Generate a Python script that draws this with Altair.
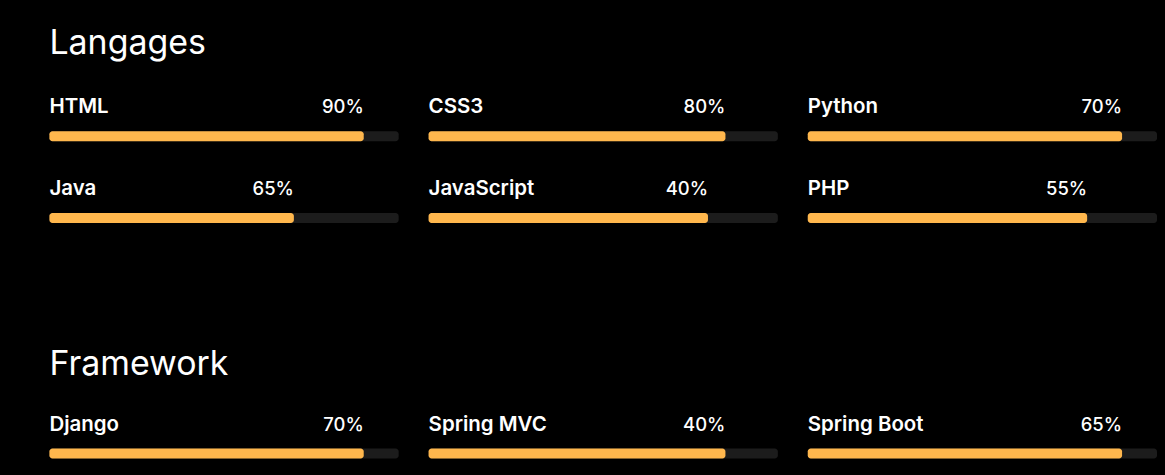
import altair as alt
import pandas as pd

# ---- data ----
sections = ["Langages"] * 6 + ["Framework"] * 3
skills = ["HTML", "CSS3", "Python", "Java", "JavaScript", "PHP",
          "Django", "Spring MVC", "Spring Boot"]
shown_pct = [90, 80, 70, 65, 40, 55, 70, 40, 65]      # text printed above each bar
bar_fill = [90, 85, 90, 70, 80, 80, 90, 85, 90]       # how far each bar is filled (%)

df = pd.DataFrame({
    "section": sections,
    "skill": skills,
    "fill": bar_fill,
    "label": [f"{v}%" for v in shown_pct],
    "order": list(range(len(skills))),
})

FONT = "Inter"
ORANGE = "#ffb74d"
TRACK = "#1c1c1c"


def section_chart(name, title_offset):
    d = df[df["section"] == name]
    xs = alt.Scale(domain=[0, 100])
    base = alt.Chart().transform_calculate(zero="0", full="100")
    track = base.mark_rect(color=TRACK, cornerRadius=3).encode(
        x=alt.X("zero:Q", scale=xs, axis=None), x2="full:Q",
        y=alt.value(33), y2=alt.value(43))
    fill = base.mark_rect(color=ORANGE, cornerRadius=3).encode(
        x=alt.X("zero:Q", scale=xs, axis=None), x2="fill:Q",
        y=alt.value(33), y2=alt.value(43))
    name_txt = base.mark_text(align="left", baseline="alphabetic", font=FONT,
                              fontSize=20.5, fontWeight=600, color="white").encode(
        x=alt.X("zero:Q", scale=xs, axis=None), y=alt.value(15), text="skill:N")
    pct_txt = base.mark_text(align="right", baseline="alphabetic", font=FONT,
                             fontSize=18.5, fontWeight=500, color="white").encode(
        x=alt.X("fill:Q", scale=xs, axis=None), y=alt.value(15), text="label:N")
    layered = alt.layer(track, fill, name_txt, pct_txt, data=d).properties(
        width=350, height=44)
    return layered.facet(
        facet=alt.Facet("skill:N", sort=alt.SortField("order"), title=None,
                        header=alt.Header(labels=False, labelPadding=0, titlePadding=0)),
        columns=3,
        spacing={"column": 30, "row": 27},
    ).properties(
        title=alt.TitleParams(name, anchor="start", font=FONT, fontSize=34,
                              fontWeight="normal", color="white",
                              offset=title_offset)
    )


chart = alt.vconcat(
    section_chart("Langages", 26),
    section_chart("Framework", 23),
    spacing=124,
).properties(
    padding={"left": 41.5, "top": 19, "right": 0, "bottom": 0},
    background="#000000",
).configure_view(stroke=None)

chart.save("out.html", embed_options={"renderer": "svg", "actions": False})

# make the page margin black too, like the reference
with open("out.html", encoding="utf-8") as f:
    html = f.read()
html = html.replace("<head>", "<head><style>html,body{background:#000000;}</style>", 1)
with open("out.html", "w", encoding="utf-8") as f:
    f.write(html)
